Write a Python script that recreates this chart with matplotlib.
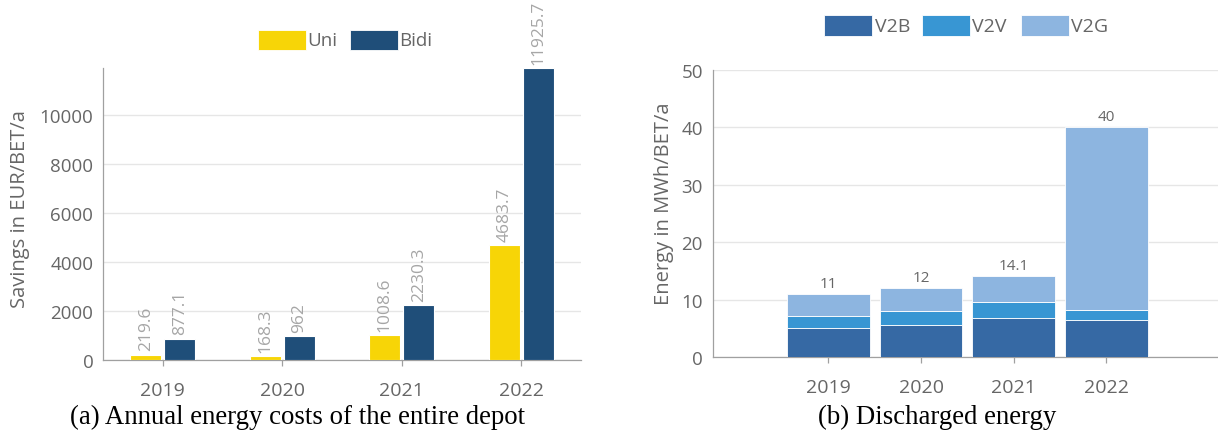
import matplotlib
matplotlib.use("Agg")
import matplotlib.pyplot as plt
import numpy as np
from matplotlib.patches import Rectangle

# ---- data -------------------------------------------------------------
years = ["2019", "2020", "2021", "2022"]

# (a) annual savings per BET
savings_series = ["Uni", "Bidi"]
uni_savings = [219.6, 168.3, 1008.6, 4683.7]
bidi_savings = [877.1, 962, 2230.3, 11925.7]

# (b) discharged energy per BET, stacked by use case
energy_series = ["V2B", "V2V", "V2G"]
v2b_energy = [5.1, 5.7, 6.8, 6.4]
v2v_energy = [2.0, 2.4, 2.9, 1.8]
v2g_energy = [3.9, 3.9, 4.4, 31.8]
energy_totals = [11, 12, 14.1, 40]

savings_ticks = [0, 2000, 4000, 6000, 8000, 10000]
energy_ticks = [0, 10, 20, 30, 40, 50]

captions = ["(a) Annual energy costs of the entire depot", "(b) Discharged energy"]

# ---- style ------------------------------------------------------------
W, H = 1218, 435
plt.rcParams["font.family"] = ["Open Sans", "DejaVu Sans"]
TXT = "#666666"
GRID = "#e6e6e6"
AXIS = "#a0a0a0"
c_uni, c_bidi = "#f7d507", "#1f4e79"
c_v2b, c_v2v, c_v2g = "#3669a4", "#3896d3", "#8db5e0"


def fx(px):
    return px / W


def fy(py):
    return 1 - py / H


fig = plt.figure(figsize=(W / 100, H / 100), dpi=100)

# ---- (a) grouped bars ---------------------------------------------------
axA = fig.add_axes([fx(103), fy(361), fx(581) - fx(103), fy(69.3) - fy(361)])
x = np.arange(len(years))
bw = 0.257
off = 0.142
bars_u = axA.bar(x - off, uni_savings, bw, color=c_uni, edgecolor="white", linewidth=0.8, zorder=3)
bars_b = axA.bar(x + off, bidi_savings, bw, color=c_bidi, edgecolor="white", linewidth=0.8, zorder=3)
for bars, vals in ((bars_u, uni_savings), (bars_b, bidi_savings)):
    for b, v in zip(bars, vals):
        axA.annotate(f"{v:g}", (b.get_x() + b.get_width() / 2, v), xytext=(0, 3),
                     textcoords="offset points", rotation=90, ha="center", va="bottom",
                     fontsize=12.5, color="#a6a6a6", annotation_clip=False, zorder=4)
axA.set_xlim(-0.5, 3.5)
axA.set_ylim(0, 11925.7)
axA.set_yticks(savings_ticks)
axA.set_xticks(x)
axA.set_xticklabels(years)
axA.set_ylabel("Savings in EUR/BET/a", fontsize=14.5, color=TXT)
axA.yaxis.set_label_coords((30 - 103) / 478, (361 - 209) / 291.7)

# ---- (b) stacked bars --------------------------------------------------
axB = fig.add_axes([fx(712.7), fy(358.3), fx(1218) - fx(712.7), fy(70.7) - fy(358.3)])
bw2 = 0.892
bottom2 = np.array(v2b_energy) + np.array(v2v_energy)
axB.bar(x, v2b_energy, bw2, color=c_v2b, edgecolor="white", linewidth=0.6, zorder=3)
axB.bar(x, v2v_energy, bw2, bottom=v2b_energy, color=c_v2v, edgecolor="white", linewidth=0.6, zorder=3)
axB.bar(x, v2g_energy, bw2, bottom=bottom2, color=c_v2g, edgecolor="white", linewidth=0.6, zorder=3)
for xi, tot in zip(x, energy_totals):
    axB.annotate(f"{tot:g}", (xi, tot), xytext=(0, 2), textcoords="offset points",
                 ha="center", va="bottom", fontsize=11, color=TXT, zorder=4)
axB.set_xlim(-1.25, 4.207)
axB.set_ylim(0, 50)
axB.set_yticks(energy_ticks)
axB.set_xticks(x)
axB.set_xticklabels(years)
axB.set_ylabel("Energy in MWh/BET/a", fontsize=14.5, color=TXT)
axB.yaxis.set_label_coords((674 - 712.7) / 505.3, (358.3 - 204) / 287.6)

for ax in (axA, axB):
    for s in ("top", "right"):
        ax.spines[s].set_visible(False)
    ax.spines["left"].set_color(AXIS)
    ax.spines["bottom"].set_color(AXIS)
    ax.spines["left"].set_linewidth(0.9)
    ax.spines["bottom"].set_linewidth(0.9)
    ax.yaxis.grid(True, color=GRID, linewidth=1.0, zorder=0)
    ax.set_axisbelow(True)
    ax.tick_params(axis="y", length=0, pad=7, labelsize=13.5, labelcolor=TXT)
    ax.tick_params(axis="x", length=4, width=0.9, color=AXIS, pad=11, labelsize=14, labelcolor=TXT)

# ---- legends -------------------------------------------------------------
def legend_entry(x0, y0, w, h, color, label, tx, size):
    fig.add_artist(Rectangle((fx(x0), fy(y0 + h)), fx(w), h / H, transform=fig.transFigure,
                             facecolor=color, edgecolor="white", linewidth=0.6))
    fig.text(fx(tx), fy(y0 + h / 2), label, ha="left", va="center", fontsize=size, color=TXT)

legend_entry(258, 31, 48, 20, c_uni, savings_series[0], 307, 13.5)
legend_entry(350, 31, 48, 20, c_bidi, savings_series[1], 399, 13.5)

legend_entry(824, 16, 48, 21, c_v2b, energy_series[0], 875, 14)
legend_entry(922, 16, 48, 21, c_v2v, energy_series[1], 972, 14)
legend_entry(1021, 16, 48, 21, c_v2g, energy_series[2], 1071, 14)

# ---- captions --------------------------------------------------------------
fig.text(fx(298), fy(417), captions[0], ha="center", va="center",
         fontsize=19.3, family="Liberation Serif", color="black")
fig.text(fx(937), fy(417), captions[1], ha="center", va="center",
         fontsize=19.3, family="Liberation Serif", color="black")

fig.savefig("out.png", dpi=100)
